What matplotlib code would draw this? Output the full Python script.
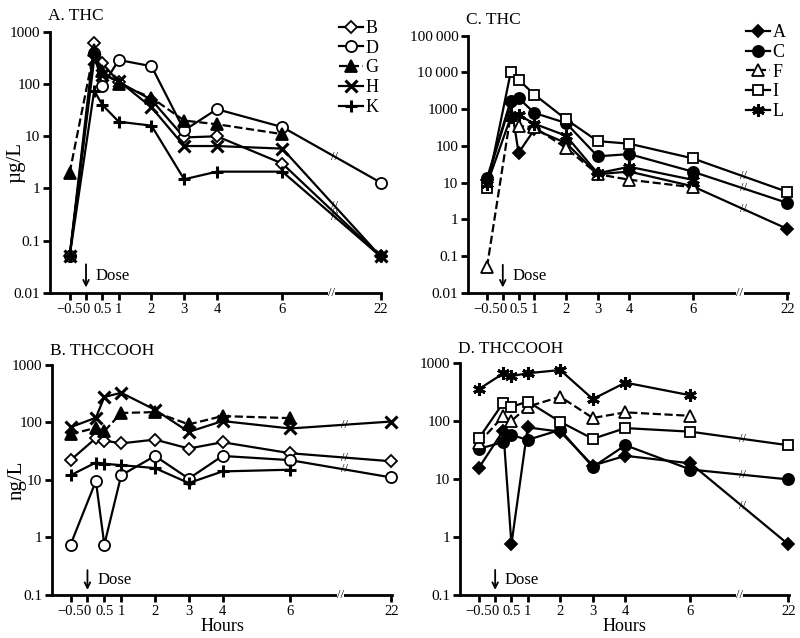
import numpy as np
import matplotlib
matplotlib.use("Agg")
import matplotlib.pyplot as plt
import matplotlib.transforms as mtransforms

plt.rcParams['font.family'] = ['Liberation Serif', 'DejaVu Serif']
plt.rcParams['axes.linewidth'] = 2.0

nan = np.nan
hours = [-0.5, 0.25, 0.5, 1, 2, 3, 4, 6, 22]
tick_hours = [-0.5, 0, 0.5, 1, 2, 3, 4, 6, 22]
tick_labels = ['\u22120.5', '0', '0.5', '1', '2', '3', '4', '6', '22']

# A. THC (ug/L)
thc_B = [0.05, 600, 250, 110, 50, 9.5, 10, 3.0, 0.05]
thc_D = [0.05, 400, 90, 290, 220, 13, 33, 15, 1.3]
thc_G = [2.0, 450, 180, 100, 55, 20, 17, 11, nan]
thc_H = [0.05, 300, 150, 115, 36, 6.5, 6.5, 5.8, 0.05]
thc_K = [0.05, 75, 40, 19, 16, 1.5, 2.1, 2.1, 0.05]

# C. THC (ug/L)
thc_A = [12, 1500, 65, 280, 120, 17, 20, 8, 0.55]
thc_C = [13, 1700, 2000, 790, 420, 52, 60, 20, 2.8]
thc_F = [0.05, 700, 350, 320, 88, 17, 12, 7.5, nan]
thc_I = [7, 10000, 6300, 2500, 530, 135, 115, 46, 5.6]
thc_L = [9, 600, 700, 400, 190, 18, 27, 12, nan]

# B. THCCOOH (ng/L)
cooh_B = [22, 53, 48, 43, 50, 35, 45, 29, 21]
cooh_D = [0.75, 9.5, 0.75, 12, 26, 10.5, 26, 22, 11]
cooh_G = [62, 80, 70, 145, 150, 92, 128, 118, nan]
cooh_H = [82, 120, 275, 325, 165, 68, 105, 78, 103]
cooh_K = [12, 20, 19, 18, 16, 8.8, 14, 15, nan]

# D. THCCOOH (ng/L)
cooh_A = [15.5, 68, 0.75, 77, 65, 17, 25, 18.5, 0.75]
cooh_C = [33, 43, 57, 47, 70, 16, 38, 14.5, 9.8]
cooh_F = [42, 120, 100, 175, 260, 112, 140, 122, nan]
cooh_I = [50, 205, 174, 215, 96, 49, 75, 65, 38]
cooh_L = [352, 655, 590, 660, 750, 237, 455, 275, nan]


def xpos(h):
    # broken axis: 22 h is drawn 3 units after 6 h
    h = np.asarray(h, dtype=float)
    return np.where(h > 6, 9.0, h)


styles = {
    'A': dict(marker='D', mfc='black', ms=6, ls='-'),
    'B': dict(marker='D', mfc='white', ms=6, ls='-'),
    'C': dict(marker='o', mfc='black', ms=8, ls='-'),
    'D': dict(marker='o', mfc='white', ms=8, ls='-'),
    'F': dict(marker='^', mfc='white', ms=8, ls='--'),
    'G': dict(marker='^', mfc='black', ms=8, ls='--'),
    'H': dict(marker='x', mfc='black', ms=8, ls='-', mew=2.2),
    'I': dict(marker='s', mfc='white', ms=7, ls='-'),
    'K': dict(marker='+', mfc='black', ms=9, ls='-', mew=2.2),
    'L': dict(marker=(6, 2, 0), mfc='black', ms=9, ls='-', mew=2.2),
}


def draw_panel(ax, series, title, ylim, yticks, ylabels, ylabel=None, xlabel=False,
               legend=False, xmin=-1.1):
    x = xpos(hours)
    for name, vals in series:
        st = dict(styles[name])
        mew = st.pop('mew', 1.3)
        ax.plot(x, vals, color='black', lw=1.6, mec='black', mew=mew,
                label=name, clip_on=False, **st)
        if not np.isnan(vals[-1]):
            # break mark on the 6 h -> 22 h segment
            frac = (7.6 - 6) / 3.0
            ly = 10 ** (np.log10(vals[-2]) + frac * (np.log10(vals[-1]) - np.log10(vals[-2])))
            ax.text(7.6, ly, '//', fontsize=9, ha='center', va='center')
    ax.set_yscale('log')
    ax.set_ylim(*ylim)
    ax.set_xlim(xmin, 9.02)
    ax.set_yticks(yticks)
    ax.set_yticklabels(ylabels)
    ax.minorticks_off()
    ax.set_xticks(xpos(tick_hours))
    ax.set_xticklabels(tick_labels)
    ax.tick_params(axis='both', direction='out', width=2, length=5, labelsize=11, pad=2)
    ax.tick_params(axis='x', labelsize=10.5)
    for s in ['top', 'right']:
        ax.spines[s].set_visible(False)
    ax.text(-0.005, 1.06, title, transform=ax.transAxes, fontsize=12.5, ha='left', va='center')
    if ylabel:
        ax.set_ylabel(ylabel, fontsize=15)
        ax.yaxis.set_label_coords(-0.075, 0.5)
    if xlabel:
        ax.set_xlabel('Hours', fontsize=13, labelpad=0)
    trans = mtransforms.blended_transform_factory(ax.transData, ax.transAxes)
    ax.annotate('', xy=(0, 0.01), xytext=(0, 0.12), xycoords=trans, textcoords=trans,
                arrowprops=dict(arrowstyle='->', color='black', lw=1.3))
    ax.text(0.3, 0.065, 'Dose', transform=trans, fontsize=12, ha='left', va='center')
    ax.text(7.5, 0.0, '//', transform=trans, fontsize=9, ha='center', va='center',
            bbox=dict(fc='white', ec='none', pad=0.2))
    if legend:
        ax.legend(loc='upper right', bbox_to_anchor=(1.02, 1.08), frameon=False,
                  fontsize=13, handlelength=1.3, handletextpad=0.15, labelspacing=0.15,
                  borderaxespad=0.1)


fig = plt.figure(figsize=(8.0, 6.38), dpi=100)
axA = fig.add_axes([0.0625, 0.541, 0.414, 0.409])
axC = fig.add_axes([0.585, 0.541, 0.400, 0.403])
axB = fig.add_axes([0.065, 0.0674, 0.425, 0.361])
axD = fig.add_axes([0.575, 0.0674, 0.411, 0.364])

draw_panel(axA, [('B', thc_B), ('D', thc_D), ('G', thc_G), ('H', thc_H), ('K', thc_K)],
           'A. THC', (0.01, 1000), [0.01, 0.1, 1, 10, 100, 1000],
           ['0.01', '0.1', '1', '10', '100', '1000'], ylabel='\u00b5g/L', legend=True)
draw_panel(axC, [('A', thc_A), ('C', thc_C), ('F', thc_F), ('I', thc_I), ('L', thc_L)],
           'C. THC', (0.01, 100000), [0.01, 0.1, 1, 10, 100, 1000, 10000, 100000],
           ['0.01', '0.1', '1', '10', '100', '1000', '10\u2009000', '100\u2009000'],
           legend=True)
draw_panel(axB, [('B', cooh_B), ('D', cooh_D), ('G', cooh_G), ('H', cooh_H), ('K', cooh_K)],
           'B. THCCOOH', (0.1, 1000), [0.1, 1, 10, 100, 1000],
           ['0.1', '1', '10', '100', '1000'], ylabel='ng/L', xlabel=True, xmin=-1.05)
draw_panel(axD, [('A', cooh_A), ('C', cooh_C), ('F', cooh_F), ('I', cooh_I), ('L', cooh_L)],
           'D. THCCOOH', (0.1, 1000), [0.1, 1, 10, 100, 1000],
           ['0.1', '1', '10', '100', '1000'], xlabel=True, xmin=-1.08)

fig.savefig('out.png', dpi=100)
